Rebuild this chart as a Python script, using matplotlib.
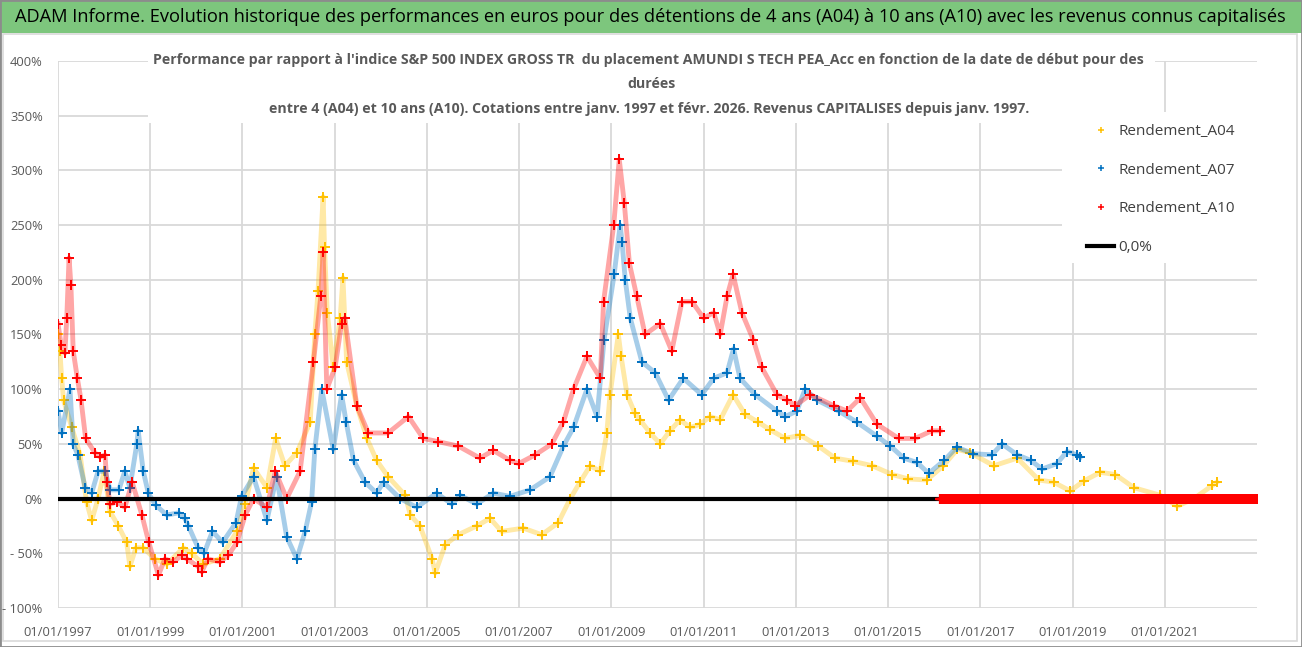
import matplotlib
matplotlib.use('Agg')
import matplotlib.pyplot as plt
import matplotlib.dates as mdates
from matplotlib.patches import Rectangle
from matplotlib.lines import Line2D
from matplotlib import font_manager
from matplotlib.ticker import FuncFormatter, MultipleLocator
import pandas as pd
from datetime import datetime

W, H = 1302, 647


def pick_font(names):
    for n in names:
        try:
            font_manager.findfont(font_manager.FontProperties(family=n), fallback_to_default=False)
            return n
        except ValueError:
            pass
    return 'DejaVu Sans'


FONT = pick_font(['Liberation Sans Narrow', 'Open Sans', 'DejaVu Sans'])
plt.rcParams['font.family'] = [FONT, 'DejaVu Sans']

# values (decimal year, % perf)
a04_t = [1997.00, 1997.04, 1997.08, 1997.12, 1997.30, 1997.48, 1997.62, 1997.73, 1997.87, 1998.00,
         1998.13, 1998.31, 1998.49, 1998.56, 1998.69, 1998.85, 1999.10, 1999.36, 1999.72, 1999.90,
         2000.15, 2000.51, 2000.88, 2001.06, 2001.24, 2001.53, 2001.72, 2001.92, 2002.18, 2002.47,
         2002.57, 2002.64, 2002.75, 2002.78, 2002.84, 2002.97, 2003.12, 2003.18, 2003.26, 2003.48,
         2003.70, 2003.91, 2004.16, 2004.53, 2004.64, 2004.85, 2005.11, 2005.18, 2005.40, 2005.68,
         2006.08, 2006.37, 2006.62, 2007.09, 2007.49, 2007.85, 2008.11, 2008.32, 2008.54, 2008.76,
         2008.90, 2008.97, 2009.15, 2009.21, 2009.34, 2009.51, 2009.62, 2009.84, 2010.06, 2010.27,
         2010.49, 2010.71, 2010.93, 2011.14, 2011.36, 2011.64, 2011.90, 2012.18, 2012.44, 2012.77,
         2013.10, 2013.49, 2013.85, 2014.25, 2014.66, 2015.09, 2015.44, 2015.84, 2016.20, 2016.50,
         2016.78, 2017.29, 2017.80, 2018.27, 2018.59, 2018.95, 2019.24, 2019.60, 2019.93, 2020.33,
         2020.90, 2021.27, 2021.63, 2022.03, 2022.13]
a04_v = [150, 135, 110, 90, 65, 40, -3, -20, 0, 25,
         -12, -25, -40, -62, -45, -45, -55, -60, -45, -50,
         -60, -55, -30, -5, 28, 10, 55, 30, 42, 70,
         150, 190, 276, 230, 170, 120, 165, 202, 125, 85,
         55, 35, 20, 3, -15, -25, -55, -68, -42, -33,
         -25, -18, -30, -27, -33, -22, 0, 15, 30, 25,
         60, 95, 150, 130, 95, 78, 72, 60, 50, 62,
         72, 65, 68, 75, 72, 95, 77, 70, 63, 55,
         58, 48, 37, 34, 30, 22, 18, 17, 30, 45,
         42, 30, 37, 17, 15, 7, 16, 24, 22, 10,
         3, -7, 0, 12, 15]

a07_t = [1997.00, 1997.08, 1997.26, 1997.33, 1997.43, 1997.59, 1997.73, 1997.87, 1998.02, 1998.13,
         1998.32, 1998.45, 1998.56, 1998.71, 1998.74, 1998.85, 1998.96, 1999.12, 1999.36, 1999.62,
         1999.75, 1999.83, 2000.04, 2000.17, 2000.35, 2000.57, 2000.86, 2000.98, 2001.24, 2001.53,
         2001.74, 2001.96, 2002.18, 2002.36, 2002.50, 2002.57, 2002.72, 2002.97, 2003.15, 2003.25,
         2003.41, 2003.66, 2003.91, 2004.06, 2004.42, 2004.78, 2005.21, 2005.54, 2005.72, 2006.08,
         2006.44, 2006.80, 2007.24, 2007.67, 2007.96, 2008.18, 2008.47, 2008.69, 2008.84, 2009.06,
         2009.19, 2009.23, 2009.30, 2009.41, 2009.66, 2009.95, 2010.24, 2010.56, 2010.96, 2011.22,
         2011.51, 2011.65, 2011.79, 2012.12, 2012.59, 2012.77, 2013.02, 2013.20, 2013.46, 2013.93,
         2014.32, 2014.76, 2015.05, 2015.34, 2015.63, 2015.88, 2016.22, 2016.49, 2016.85, 2017.25,
         2017.47, 2017.80, 2018.09, 2018.34, 2018.66, 2018.88, 2019.10, 2019.17]
a07_v = [80, 60, 100, 50, 40, 10, 5, 25, 25, 8,
         8, 25, 10, 50, 62, 25, 5, -6, -15, -13,
         -18, -25, -45, -50, -30, -40, -22, 2, 20, -20,
         20, -35, -55, -30, -3, 45, 100, 45, 95, 70,
         35, 15, 5, 15, 0, -8, 5, -5, 3, -5,
         5, 2, 8, 20, 48, 65, 100, 75, 145, 205,
         250, 235, 200, 165, 125, 115, 90, 110, 95, 110,
         115, 137, 110, 95, 80, 75, 80, 100, 90, 80,
         70, 57, 48, 37, 33, 23, 35, 47, 41, 40,
         50, 40, 35, 27, 32, 43, 40, 38]

a10_t = [1997.00, 1997.07, 1997.15, 1997.19, 1997.24, 1997.28, 1997.33, 1997.42, 1997.50, 1997.60,
         1997.80, 1997.91, 1998.02, 1998.06, 1998.13, 1998.28, 1998.45, 1998.61, 1998.82, 1998.97,
         1999.18, 1999.32, 1999.49, 1999.69, 1999.79, 2000.04, 2000.12, 2000.25, 2000.51, 2000.69,
         2000.88, 2001.06, 2001.24, 2001.53, 2001.71, 2001.96, 2002.25, 2002.54, 2002.70, 2002.75,
         2002.83, 2003.01, 2003.15, 2003.22, 2003.48, 2003.73, 2004.16, 2004.60, 2004.92, 2005.25,
         2005.68, 2006.15, 2006.44, 2006.80, 2006.99, 2007.35, 2007.71, 2007.96, 2008.18, 2008.47,
         2008.76, 2008.83, 2009.05, 2009.17, 2009.28, 2009.39, 2009.55, 2009.73, 2010.06, 2010.31,
         2010.53, 2010.75, 2011.00, 2011.22, 2011.36, 2011.51, 2011.64, 2011.83, 2012.08, 2012.26,
         2012.59, 2012.81, 2012.99, 2013.31, 2013.82, 2014.11, 2014.40, 2014.76, 2015.23, 2015.59,
         2015.95, 2016.13]
a10_v = [160, 140, 133, 165, 220, 195, 135, 110, 90, 55,
         42, 38, 40, 15, -5, -3, -8, 15, -15, -40,
         -70, -55, -58, -52, -55, -62, -67, -55, -58, -52,
         -40, -15, 0, -8, 25, 0, 25, 125, 185, 225,
         100, 120, 160, 165, 85, 60, 60, 75, 55, 52,
         48, 37, 44, 35, 32, 40, 50, 70, 100, 130,
         110, 180, 250, 310, 270, 215, 185, 150, 160, 135,
         180, 180, 165, 170, 150, 185, 205, 170, 145, 120,
         95, 90, 85, 95, 85, 80, 92, 68, 55, 55,
         62, 62]

# after its last date A10 is reported as 0
a10_zero_from = '2016-02-20'
a10_zero_to = '2023-01-01'

labels = ['Rendement_A04', 'Rendement_A07', 'Rendement_A10', '0,0%']
colors = ['#FFC000', '#0070C0', '#FF0000']
gray_txt = '#595959'
grid_c = '#D9D9D9'


def yr2date(y):
    yi = int(y)
    d0, d1 = datetime(yi, 1, 1), datetime(yi + 1, 1, 1)
    return d0 + (d1 - d0) * (y - yi)


def fx(px):
    return px / W


def fy(py):
    return 1 - py / H


fig = plt.figure(figsize=(W / 100, H / 100), dpi=100)
fig.patch.set_facecolor('white')

# green banner
fig.add_artist(Rectangle((0, fy(33)), 1, 33 / H, transform=fig.transFigure,
                         fc='#7DC67D', ec='none', zorder=0))
banner = fig.text(fx(15), fy(17), 'ADAM Informe. Evolution historique des performances en euros pour des '
                  'détentions de 4 ans (A04) à 10 ans (A10) avec les revenus connus capitalisés',
                  ha='left', va='center', fontsize=15, color='black')
# chart area border + outer frame
fig.add_artist(Rectangle((fx(3), fy(641)), fx(1297) - fx(3), fy(34) - fy(641), transform=fig.transFigure,
                         fc='none', ec='#D9D9D9', lw=1.2, zorder=0))
fig.add_artist(Rectangle((0, 0), 1, 1, transform=fig.transFigure, fc='none', ec='#8C8C8C', lw=2, zorder=0))

ax = fig.add_axes([fx(58), fy(608), fx(1257) - fx(58), fy(61) - fy(608)])
ax.set_facecolor('none')
for s in ax.spines.values():
    s.set_visible(False)

ax.set_ylim(-100, 400)
ax.set_xlim(datetime(1997, 1, 1), datetime(2023, 1, 1))
ax.yaxis.set_major_locator(MultipleLocator(50))
ax.yaxis.set_major_formatter(FuncFormatter(lambda v, p: f'{v:.0f}%' if v >= 0 else f'- {abs(v):.0f}%'))
ax.set_xticks([datetime(y, 1, 1) for y in range(1997, 2022, 2)])
ax.xaxis.set_major_formatter(mdates.DateFormatter('%d/%m/%Y'))
ax.tick_params(length=0, labelsize=9.3, labelcolor=gray_txt)
ax.tick_params(axis='y', pad=11)
ax.tick_params(axis='x', pad=13)
ax.set_axisbelow(True)
ax.grid(True, color=grid_c, lw=1.3)
ax.axhline(-38, color=grid_c, lw=1.3, zorder=0.5)

series = [(a04_t, a04_v), (a07_t, a07_v), (a10_t, a10_v)]
for (t, v), c, lab in zip(series, colors, labels):
    d = [yr2date(x) for x in t]
    ax.plot(d, v, '-', color=c, lw=3.5, alpha=0.35, zorder=2, solid_joinstyle='round')
    ax.plot(d, v, '+', color=c, ms=7, mew=1.4, zorder=2, label=lab)

ax.plot([datetime(1997, 1, 1), datetime(2023, 1, 1)], [0, 0], color='black', lw=3, zorder=3)
zd = pd.date_range(a10_zero_from, a10_zero_to, freq='4D')
ax.plot(zd, [0] * len(zd), '+', color=colors[2], ms=7, mew=1.6, zorder=4)

# white boxes behind title and legend (hide gridlines there)
ax.add_patch(Rectangle((fx(148), fy(123)), fx(1155) - fx(148), fy(38) - fy(123), transform=fig.transFigure,
                       fc='white', ec='none', zorder=1.5, clip_on=False))
ax.add_patch(Rectangle((fx(1062), fy(263)), fx(1258) - fx(1062), fy(112) - fy(263), transform=fig.transFigure,
                       fc='white', ec='none', zorder=1.5, clip_on=False))

t1 = fig.text(fx(648), fy(60), "Performance par rapport à l'indice S&P 500 INDEX GROSS TR  du placement AMUNDI S "
              "TECH PEA_Acc en fonction de la date de début pour des", ha='center', va='center',
              fontsize=11.5, fontweight='bold', color=gray_txt)
t2 = fig.text(fx(651), fy(84), 'durées', ha='center', va='center', fontsize=11.5, fontweight='bold', color=gray_txt)
t3 = fig.text(fx(649), fy(109), 'entre 4 (A04) et 10 ans (A10). Cotations entre janv. 1997 et févr. 2026. '
              'Revenus CAPITALISES depuis janv. 1997.', ha='center', va='center',
              fontsize=11.5, fontweight='bold', color=gray_txt)

handles = [Line2D([], [], ls='none', marker='+', color=c, ms=5, mew=1.1) for c in colors]
handles.append(Line2D([], [], color='black', lw=3))
ax.legend(handles, labels, loc='upper left', bbox_to_anchor=(fx(1077), fy(114)), bbox_transform=fig.transFigure,
          frameon=False, fontsize=11, labelcolor='#404040', handlelength=1.8, handletextpad=0.25,
          labelspacing=1.55, borderpad=0.65, borderaxespad=0)

# fit long texts to the widths seen in the picture
r = fig.canvas.get_renderer()
for txt, target in [(banner, 1275), (t1, 990), (t3, 762)]:
    w = txt.get_window_extent(r).width
    txt.set_fontsize(txt.get_fontsize() * target / w)
t2.set_fontsize(t1.get_fontsize())

fig.savefig('out.png', dpi=100)
